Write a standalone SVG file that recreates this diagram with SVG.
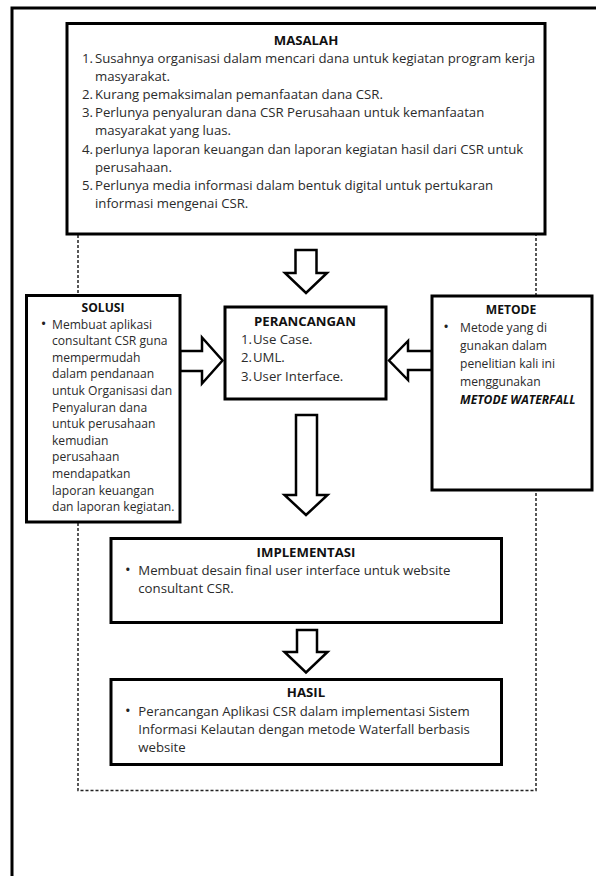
<svg xmlns="http://www.w3.org/2000/svg" width="596" height="876" viewBox="0 0 596 876">
<style>
.box{fill:#fff;stroke:#000;stroke-width:3}
.arrow{fill:#fff;stroke:#000;stroke-width:2.5;stroke-linejoin:miter}
.dash{fill:none;stroke:#222;stroke-width:1.5;stroke-dasharray:3 2}
.t{font-family:"Open Sans","Noto Sans",sans-serif;fill:#2b2b2b}
.h{font-family:"Open Sans","Noto Sans",sans-serif;font-weight:bold;fill:#111;text-anchor:middle}
.lg{font-size:13.2px}
.sm{font-size:12.1px}
.bu{font-family:"Open Sans","Noto Sans",sans-serif;font-size:15px;fill:#222;text-anchor:middle}
.bi{font-weight:bold;font-style:italic;fill:#111}
</style>
<rect width="596" height="876" fill="#fff"/>
<path id="frame" d="M12,876 V8 H598" fill="none" stroke="#000" stroke-width="3"/>
<g id="connectors">
<path class="dash" d="M78,235 V295 M78,523 V790.5 H536 V490 M536,296 V235"/>
<polygon class="arrow" points="295.5,250 316.5,250 316.5,273 327,273 306,293 285,273 295.5,273"/>
<polygon class="arrow" points="180,351 202,351 202,337.5 222.5,360.5 202,383.5 202,371 180,371"/>
<polygon class="arrow" points="432,351 408,351 408,341 389,360.5 408,380 408,370 432,370"/>
<polygon class="arrow" points="296,415 317,415 317,495 327.5,495 306,515 284.5,495 296,495"/>
<polygon class="arrow" points="297,630 317,630 317,652 327.5,652 306,672.5 284.5,652 297,652"/>
</g>
<g id="masalah">
<rect class="box" x="67" y="23.5" width="478" height="210.5"/>
<text class="h lg" x="306" y="45">MASALAH</text>
<text class="t lg">
<tspan x="82" y="63">1.</tspan><tspan x="95" y="63">Susahnya organisasi dalam mencari dana untuk kegiatan program kerja</tspan>
<tspan x="95" y="81.1">masyarakat.</tspan>
<tspan x="82" y="99.2">2.</tspan><tspan x="95" y="99.2">Kurang pemaksimalan pemanfaatan dana CSR.</tspan>
<tspan x="82" y="117.3">3.</tspan><tspan x="95" y="117.3">Perlunya penyaluran dana CSR Perusahaan untuk kemanfaatan</tspan>
<tspan x="95" y="135.4">masyarakat yang luas.</tspan>
<tspan x="82" y="153.5">4.</tspan><tspan x="95" y="153.5">perlunya laporan keuangan dan laporan kegiatan hasil dari CSR untuk</tspan>
<tspan x="95" y="171.6">perusahaan.</tspan>
<tspan x="82" y="189.7">5.</tspan><tspan x="95" y="189.7">Perlunya media informasi dalam bentuk digital untuk pertukaran</tspan>
<tspan x="95" y="207.8">informasi mengenai CSR.</tspan>
</text>
</g>
<g id="solusi">
<rect class="box" x="26.5" y="295.5" width="153.5" height="226.5"/>
<text class="h sm" x="103" y="311.5">SOLUSI</text>
<text class="bu" x="43.5" y="328.5">•</text>
<text class="t sm">
<tspan x="52" y="328.5">Membuat aplikasi</tspan>
<tspan x="52" y="345.1">consultant CSR guna</tspan>
<tspan x="52" y="361.7">mempermudah</tspan>
<tspan x="52" y="378.3">dalam pendanaan</tspan>
<tspan x="52" y="394.9">untuk Organisasi dan</tspan>
<tspan x="52" y="411.5">Penyaluran dana</tspan>
<tspan x="52" y="428.1">untuk perusahaan</tspan>
<tspan x="52" y="444.7">kemudian</tspan>
<tspan x="52" y="461.3">perusahaan</tspan>
<tspan x="52" y="477.9">mendapatkan</tspan>
<tspan x="52" y="494.5">laporan keuangan</tspan>
<tspan x="52" y="511.1">dan laporan kegiatan.</tspan>
</text>
</g>
<g id="perancangan">
<rect class="box" x="225" y="307" width="161" height="92"/>
<text class="h lg" x="305" y="326">PERANCANGAN</text>
<text class="t lg">
<tspan x="241" y="343.5">1.</tspan><tspan x="253" y="343.5">Use Case.</tspan>
<tspan x="241" y="362">2.</tspan><tspan x="253" y="362">UML.</tspan>
<tspan x="241" y="380.5">3.</tspan><tspan x="253" y="380.5">User Interface.</tspan>
</text>
</g>
<g id="metode">
<rect class="box" x="432" y="296" width="160" height="194"/>
<text class="h sm" x="511" y="314">METODE</text>
<text class="bu" x="446" y="332">•</text>
<text class="t sm">
<tspan x="460" y="332">Metode yang di</tspan>
<tspan x="460" y="350">gunakan dalam</tspan>
<tspan x="460" y="368">penelitian kali ini</tspan>
<tspan x="460" y="386">menggunakan</tspan>
<tspan x="460" y="404" class="bi">METODE WATERFALL</tspan>
</text>
</g>
<g id="implementasi">
<rect class="box" x="111" y="538.5" width="390.5" height="84"/>
<text class="h lg" x="306" y="557">IMPLEMENTASI</text>
<text class="bu" x="127.7" y="575">•</text>
<text class="t lg">
<tspan x="138.3" y="575">Membuat desain final user interface untuk website</tspan>
<tspan x="138.3" y="593">consultant CSR.</tspan>
</text>
</g>
<g id="hasil">
<rect class="box" x="111" y="679.5" width="390.5" height="85"/>
<text class="h lg" x="306" y="697">HASIL</text>
<text class="bu" x="127.7" y="716">•</text>
<text class="t lg">
<tspan x="138.3" y="716">Perancangan Aplikasi CSR dalam implementasi Sistem</tspan>
<tspan x="138.3" y="734">Informasi Kelautan dengan metode Waterfall berbasis</tspan>
<tspan x="138.3" y="752">website</tspan>
</text>
</g>
</svg>
